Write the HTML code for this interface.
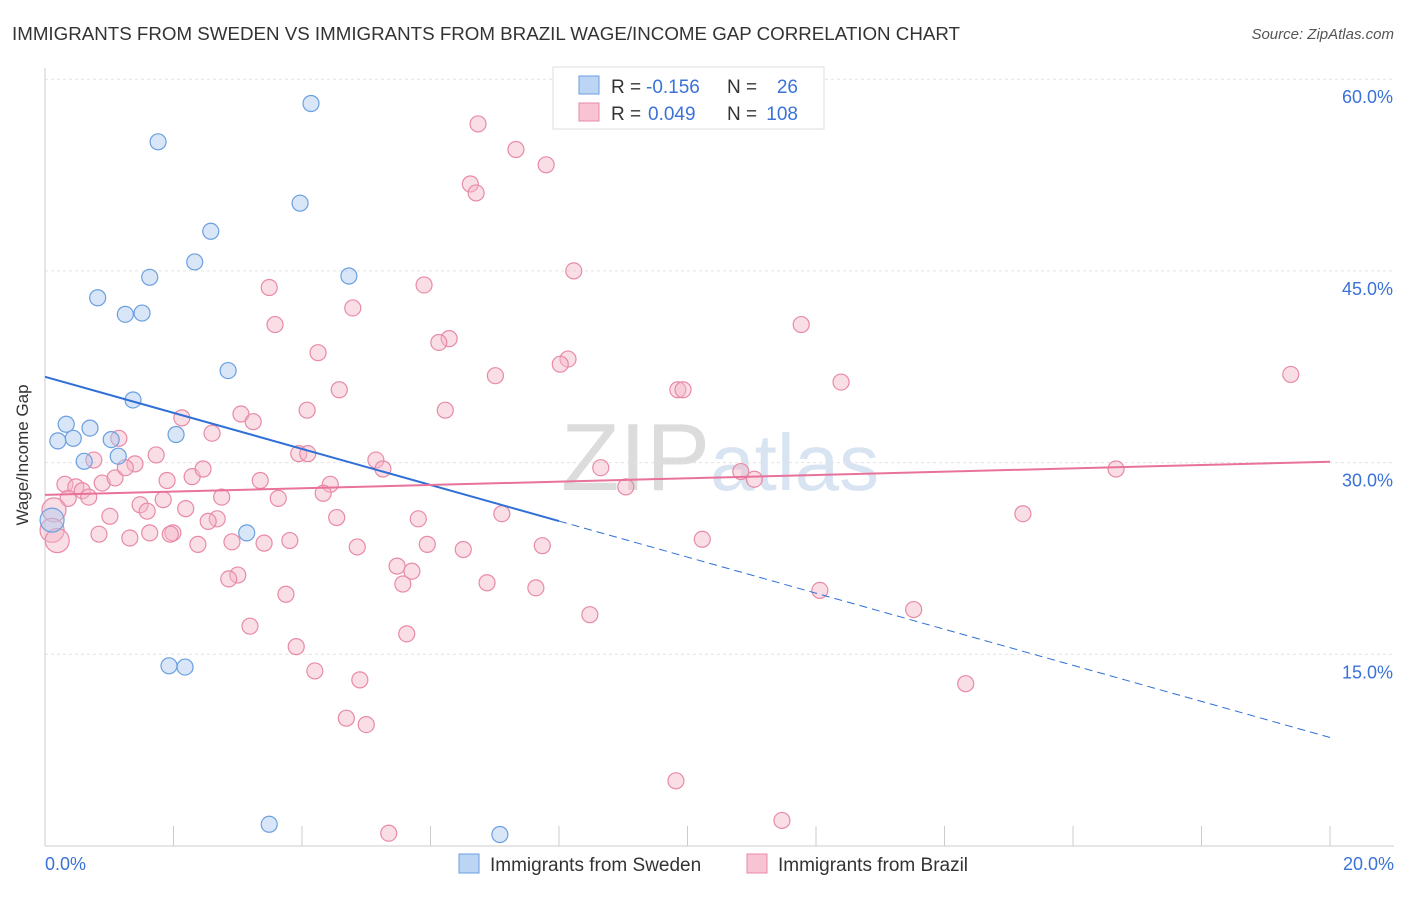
<!DOCTYPE html>
<html><head><meta charset="utf-8"><style>
body{margin:0;background:#fff;font-family:"Liberation Sans",sans-serif}
svg text{font-family:"Liberation Sans",sans-serif}
</style></head><body>
<svg id="c" width="1406" height="892">
<text x="12" y="40" font-size="18" fill="#333" textLength="948" lengthAdjust="spacingAndGlyphs">IMMIGRANTS FROM SWEDEN VS IMMIGRANTS FROM BRAZIL WAGE/INCOME GAP CORRELATION CHART</text>
<text x="1394" y="39" font-size="15" fill="#555" text-anchor="end" font-style="italic">Source: ZipAtlas.com</text>
<text x="720" y="490" font-size="96" fill="#e6e6e6" text-anchor="middle" font-family="Liberation Serif"><tspan fill="#dcdcdc">ZIP</tspan><tspan fill="#d8e4f2" font-family="Liberation Sans" font-size="80">atlas</tspan></text>
<g id="grid"></g><g id="pts"></g><g id="trend"></g>
<text x="28" y="455" font-size="17" fill="#333" text-anchor="middle" transform="rotate(-90 28 455)">Wage/Income Gap</text>
<g>
<rect x="553" y="67" width="271" height="62" fill="#fff" stroke="#ddd"/>
<rect x="579" y="76" width="20" height="18" fill="#bcd5f5" stroke="#6a9fe0"/>
<rect x="579" y="103" width="20" height="18" fill="#f8c4d4" stroke="#e88aa6"/>
<text x="611" y="93" font-size="19" fill="#333">R =</text>
<text x="646" y="93" font-size="19" fill="#3a72d8">-0.156</text>
<text x="727" y="93" font-size="19" fill="#333">N =</text>
<text x="798" y="93" font-size="19" fill="#3a72d8" text-anchor="end">26</text>
<text x="611" y="120" font-size="19" fill="#333">R =</text>
<text x="648" y="120" font-size="19" fill="#3a72d8">0.049</text>
<text x="727" y="120" font-size="19" fill="#333">N =</text>
<text x="798" y="120" font-size="19" fill="#3a72d8" text-anchor="end">108</text>
</g>
<g>
<rect x="459" y="854" width="20" height="19" fill="#bcd5f5" stroke="#6a9fe0"/>
<text x="490" y="871" font-size="19" fill="#333">Immigrants from Sweden</text>
<rect x="747" y="854" width="20" height="19" fill="#f8c4d4" stroke="#e88aa6"/>
<text x="778" y="871" font-size="19" fill="#333">Immigrants from Brazil</text>
</g>
</svg>
<script>
const yTicks=[15,30,45,60];
const xTickLabels=["0.0%","20.0%"];
const swedenX=[4.14,1.76,3.97,2.58,2.33,1.63,4.73,0.82,1.25,1.51,2.85,1.37,0.33,0.70,0.44,0.20,1.03,2.04,1.14,0.61,0.11,3.14,1.93,2.18,3.49,7.08];
const swedenY=[58.1,55.1,50.3,48.1,45.7,44.5,44.6,42.9,41.6,41.7,37.2,34.9,33.0,32.7,31.9,31.7,31.8,32.2,30.5,30.1,25.5,24.5,14.1,14.0,1.7,0.9];
const brazilX=[6.74,7.33,7.80,6.62,6.71,8.23,3.49,5.90,4.79,3.58,11.77,4.25,6.29,6.13,8.14,8.02,7.01,12.39,9.85,9.93,19.39,4.58,4.08,6.23,2.13,3.05,3.24,2.60,1.15,3.95,4.09,0.76,1.40,1.73,5.15,5.26,8.65,10.83,11.04,16.67,9.04,0.31,0.48,0.58,0.89,1.09,1.25,1.90,2.29,2.46,3.35,4.44,4.33,0.68,0.36,2.75,3.63,1.48,1.84,2.19,1.59,1.01,0.14,0.11,0.19,0.84,1.32,1.63,1.99,1.95,2.38,2.68,2.54,2.91,3.41,3.81,4.54,5.81,7.11,15.22,10.23,4.86,5.95,6.51,7.74,5.48,5.71,5.57,3.00,2.86,6.88,7.64,3.75,12.06,13.52,8.48,3.19,5.63,3.91,4.20,4.90,14.33,4.69,5.00,9.82,5.35,11.47];
const brazilY=[56.5,54.5,53.3,51.8,51.1,45.0,43.7,43.9,42.1,40.8,40.8,38.6,39.7,39.4,38.1,37.7,36.8,36.3,35.7,35.7,36.9,35.7,34.1,34.1,33.5,33.8,33.2,32.3,31.9,30.7,30.7,30.2,29.9,30.6,30.2,29.5,29.6,29.3,28.7,29.5,28.1,28.3,28.1,27.8,28.4,28.8,29.6,28.6,28.9,29.5,28.6,28.3,27.6,27.3,27.2,27.3,27.2,26.7,27.1,26.4,26.2,25.8,26.3,24.7,23.9,24.4,24.1,24.5,24.5,24.4,23.6,25.6,25.4,23.8,23.7,23.9,25.7,25.6,26.0,26.0,24.0,23.4,23.6,23.2,23.5,21.9,21.5,20.5,21.2,20.9,20.6,20.2,19.7,20.0,18.5,18.1,17.2,16.6,15.6,13.7,13.0,12.7,10.0,9.5,5.1,1.0,2.0];
const NS="http://www.w3.org/2000/svg";
const X0=45,X1=1330,Y0=846,PY=12.78;
const xs=v=>X0+(X1-X0)*v/20, ys=v=>Y0-PY*v;
function mk(t,a,p){const e=document.createElementNS(NS,t);for(const k in a)e.setAttribute(k,a[k]);p.appendChild(e);return e;}
const g=document.getElementById('grid');
yTicks.forEach(v=>{
 const l=mk('line',{x1:X0,x2:1394,y1:ys(v),y2:ys(v),stroke:'#e2e2e2','stroke-dasharray':'3,3'},g);
 
 
 const t=mk('text',{x:1393,y:ys(v)+24,'font-size':18,fill:'#3a72d8','text-anchor':'end'},g);
 t.textContent=v.toFixed(1)+'%';
 
 
});
const ax=mk('line',{x1:X0,x2:1394,y1:Y0,y2:Y0,stroke:'#ccc'},g);


const ay=mk('line',{x1:X0,x2:X0,y1:68,y2:Y0,stroke:'#ccc'},g);


for(let i=0;i<=10;i++){const l=mk('line',{x1:xs(i*2),x2:xs(i*2),y1:Y0,y2:Y0-20,stroke:'#ccc'},g);
 
 }
[[0,'start',45],[20,'end',1394]].forEach((a,i)=>{const t=mk('text',{x:a[2],y:870,'font-size':18,fill:'#3a72d8','text-anchor':a[1]},g);t.textContent=xTickLabels[i];
 
 });
const p=document.getElementById('pts');
function pts(X,Y,f,s,n,th){X.forEach((x,i)=>{const c=mk('circle',{cx:xs(x),cy:ys(Y[i]),r:x<th?12:8,fill:f,'fill-opacity':0.45,stroke:s,'stroke-width':1.2},p);
 
 });}
pts(brazilX,brazilY,'#f4b5c8','#e88aa6','brazil-point',0.2);
pts(swedenX,swedenY,'#a9c8ef','#6a9fe0','sweden-point',0.15);
function fit(X,Y){const n=X.length;let mx=0,my=0;X.forEach((x,i)=>{mx+=x;my+=Y[i]});mx/=n;my/=n;let sxy=0,sxx=0;X.forEach((x,i)=>{sxy+=(x-mx)*(Y[i]-my);sxx+=(x-mx)**2});const b=sxy/sxx;return [my-b*mx,b];}
const tr=document.getElementById('trend');
const [sa,sb]=fit(swedenX,swedenY),[ba,bb]=fit(brazilX,brazilY);
let l=mk('line',{x1:xs(0),y1:ys(sa),x2:xs(8),y2:ys(sa+sb*8),stroke:'#2f6fd6','stroke-width':2},tr);


l=mk('line',{x1:xs(8),y1:ys(sa+sb*8),x2:xs(20),y2:ys(sa+sb*20),stroke:'#2f6fd6','stroke-width':1,'stroke-dasharray':'8,5'},tr);


l=mk('line',{x1:xs(0),y1:ys(ba),x2:xs(20),y2:ys(ba+bb*20),stroke:'#e8729a','stroke-width':2},tr);


</script>
</body></html>
